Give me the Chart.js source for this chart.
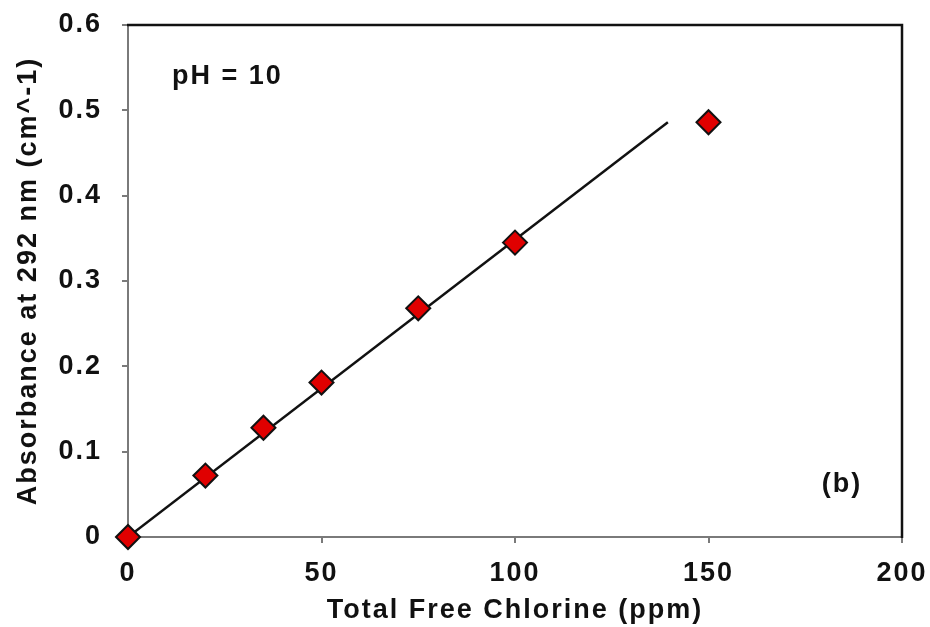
<!DOCTYPE html>
<html>
<head>
<meta charset="utf-8">
<script src="https://cdn.jsdelivr.net/npm/chart.js@4.4.1/dist/chart.umd.min.js"></script>
<style>
  html, body { margin: 0; padding: 0; background: #ffffff; }
  #wrap { width: 930px; height: 627px; position: relative; }
</style>
</head>
<body>
<div id="wrap"><canvas id="chlorineChart"></canvas></div>
<script>
// ----------------------------------------------------------------------------
// Data
// ----------------------------------------------------------------------------
const chlorinePpm = [0, 20, 35, 50, 75, 100, 150];
const absorbance = [0, 0.072, 0.128, 0.181, 0.268, 0.345, 0.486];

// fitted line (drawn only up to ~140 ppm in the figure)
const fitPpm = [0, 139.5];
const fitAbs = [0, 0.486];

const xTickValues = [0, 50, 100, 150, 200];
const yTickValues = [0, 0.1, 0.2, 0.3, 0.4, 0.5, 0.6];
const yTickLabels = ['0', '0.1', '0.2', '0.3', '0.4', '0.5', '0.6'];

const FONT = '"Liberation Sans", Arial, sans-serif';
const TEXT = '#111111';
const SPACING = '2px';
const FSIZE = 27;

// the scanned figure has wide lettering, mimic it with letter spacing
const spacingPlugin = {
  id: 'spacing',
  beforeUpdate(chart) { chart.ctx.letterSpacing = SPACING; },
  beforeDraw(chart) { chart.ctx.letterSpacing = SPACING; }
};

// top / right frame lines + the two text notes
const framePlugin = {
  id: 'frame',
  afterDraw(chart) {
    const { ctx, chartArea: a } = chart;
    ctx.save();
    ctx.strokeStyle = '#111111';
    ctx.lineWidth = 2.5;
    ctx.beginPath();
    ctx.moveTo(a.left - 1, a.top);
    ctx.lineTo(a.right, a.top);
    ctx.lineTo(a.right, a.bottom + 1);
    ctx.stroke();

    ctx.letterSpacing = SPACING;
    ctx.fillStyle = TEXT;
    ctx.font = 'bold ' + FSIZE + 'px ' + FONT;
    ctx.textBaseline = 'middle';
    ctx.textAlign = 'left';
    ctx.fillText('pH = 10', a.left + 44, a.top + 52);
    ctx.textAlign = 'center';
    ctx.fillText('(b)', a.right - 60, a.bottom - 52);
    ctx.restore();
  }
};

// no extra room for overhanging labels, layout padding decides the plot box
function noOverhang(scale) {
  scale.paddingTop = 0;
  scale.paddingBottom = 0;
  scale.paddingLeft = 0;
  scale.paddingRight = 0;
}

const ctx = document.getElementById('chlorineChart');

new Chart(ctx, {
  type: 'scatter',
  data: {
    datasets: [
      {
        label: 'Measured',
        data: chlorinePpm.map((x, i) => ({ x: x, y: absorbance[i] })),
        pointStyle: 'rectRot',
        pointRadius: 12,
        pointHoverRadius: 12,
        pointBackgroundColor: '#e00000',
        pointBorderColor: '#111111',
        pointBorderWidth: 2,
        showLine: false,
        clip: false
      },
      {
        label: 'Fit',
        data: fitPpm.map((x, i) => ({ x: x, y: fitAbs[i] })),
        showLine: true,
        borderColor: '#111111',
        borderWidth: 2.5,
        pointRadius: 0,
        pointHoverRadius: 0,
        fill: false
      }
    ]
  },
  options: {
    responsive: true,
    maintainAspectRatio: false,
    animation: false,
    layout: { padding: { left: 0, right: 28, top: 25, bottom: 0 } },
    plugins: {
      legend: { display: false },
      tooltip: { enabled: false }
    },
    scales: {
      x: {
        type: 'linear',
        min: 0,
        max: 200,
        afterBuildTicks: (scale) => { scale.ticks = xTickValues.map(v => ({ value: v })); },
        afterFit: (scale) => { scale.height = 90; noOverhang(scale); },
        border: { display: true, color: '#7a7a7a', width: 2 },
        grid: { drawOnChartArea: false, color: '#7a7a7a', tickLength: 6, lineWidth: 2 },
        ticks: {
          color: TEXT,
          padding: 14,
          maxRotation: 0,
          font: { family: FONT, size: FSIZE, weight: 'bold' }
        },
        title: {
          display: true,
          text: 'Total Free Chlorine (ppm)',
          color: TEXT,
          padding: { top: 0, bottom: 0 },
          font: { family: FONT, size: FSIZE, weight: 'bold' }
        }
      },
      y: {
        type: 'linear',
        min: 0,
        max: 0.6,
        afterBuildTicks: (scale) => { scale.ticks = yTickValues.map(v => ({ value: v })); },
        afterFit: (scale) => { scale.width = 128; noOverhang(scale); },
        border: { display: true, color: '#7a7a7a', width: 2 },
        grid: { drawOnChartArea: false, color: '#7a7a7a', tickLength: 6, lineWidth: 2 },
        ticks: {
          color: TEXT,
          padding: 20,
          font: { family: FONT, size: FSIZE, weight: 'bold' },
          callback: function (value) {
            const i = yTickValues.findIndex(v => Math.abs(v - value) < 1e-9);
            return i >= 0 ? yTickLabels[i] : '';
          }
        },
        title: {
          display: true,
          text: 'Absorbance at 292 nm (cm^-1)',
          color: TEXT,
          padding: { top: 12, bottom: 0 },
          font: { family: FONT, size: FSIZE, weight: 'bold' }
        }
      }
    }
  },
  plugins: [spacingPlugin, framePlugin]
});
</script>
</body>
</html>
